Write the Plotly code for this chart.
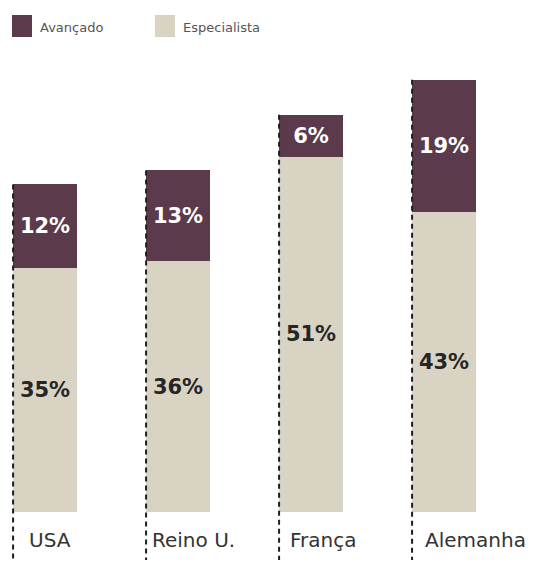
import plotly.graph_objects as go

categories = ["USA", "Reino U.", "França", "Alemanha"]
especialista = [35, 36, 51, 43]
avancado = [12, 13, 6, 19]
legend_names = ["Avançado", "Especialista"]

C_AV = "#5b3b4b"
C_ES = "#d9d3c4"

x = list(range(len(categories)))
BAR_W = 0.48
YMAX = 73.46

fig = go.Figure()
fig.add_trace(go.Bar(
    x=x, y=especialista, name=legend_names[1], width=BAR_W,
    marker=dict(color=C_ES, line=dict(width=0)),
    text=[f"{v}%" for v in especialista], textposition="inside",
    insidetextanchor="middle", textangle=0,
    textfont=dict(family="DejaVu Sans", size=21, color="#262626", weight="bold"),
    showlegend=False,
))
fig.add_trace(go.Bar(
    x=x, y=avancado, name=legend_names[0], width=BAR_W,
    marker=dict(color=C_AV, line=dict(width=0)),
    text=[f"{v}%" for v in avancado], textposition="inside",
    insidetextanchor="middle", textangle=0,
    textfont=dict(family="DejaVu Sans", size=21, color="#ffffff", weight="bold"),
    showlegend=False,
))

W, H = 539, 563
PLOT_H = 512

shapes = []
annotations = []
label_shift = [14, 4, 9, 11]
for i, cat in enumerate(categories):
    total = especialista[i] + avancado[i]
    shapes.append(dict(
        type="line", xref="x", yref="paper",
        x0=i - BAR_W / 2, x1=i - BAR_W / 2,
        y0=total / YMAX, y1=-48 / PLOT_H,
        line=dict(color="#1e1e1e", width=2, dash="5px,4px"),
        layer="above",
    ))
    annotations.append(dict(
        x=i - BAR_W / 2, xref="x", y=-28 / PLOT_H, yref="paper",
        text=cat, showarrow=False, xanchor="left", yanchor="middle",
        xshift=label_shift[i],
        font=dict(family="DejaVu Sans", size=20, color="#333333"),
    ))

# legend drawn manually
leg = [(12, C_AV, legend_names[0]), (155, C_ES, legend_names[1])]
for px, col, name in leg:
    shapes.append(dict(
        type="rect", xref="paper", yref="paper",
        x0=px / W, x1=(px + 20) / W,
        y0=(PLOT_H - 37) / PLOT_H, y1=(PLOT_H - 15) / PLOT_H,
        fillcolor=col, line=dict(width=0),
    ))
    annotations.append(dict(
        x=(px + 26) / W, xref="paper", y=(PLOT_H - 27) / PLOT_H, yref="paper",
        text=name, showarrow=False, xanchor="left", yanchor="middle",
        font=dict(family="DejaVu Sans", size=13, color="#555555"),
    ))

fig.update_layout(
    width=W, height=H,
    margin=dict(l=0, r=0, t=0, b=H - PLOT_H),
    barmode="stack",
    plot_bgcolor="white", paper_bgcolor="white",
    xaxis=dict(range=[-45 / 133, -45 / 133 + W / 133], visible=False, fixedrange=True),
    yaxis=dict(range=[0, YMAX], visible=False, fixedrange=True),
    shapes=shapes, annotations=annotations,
    showlegend=False,
    uniformtext=dict(mode=False),
)

fig.write_html("out.html")
